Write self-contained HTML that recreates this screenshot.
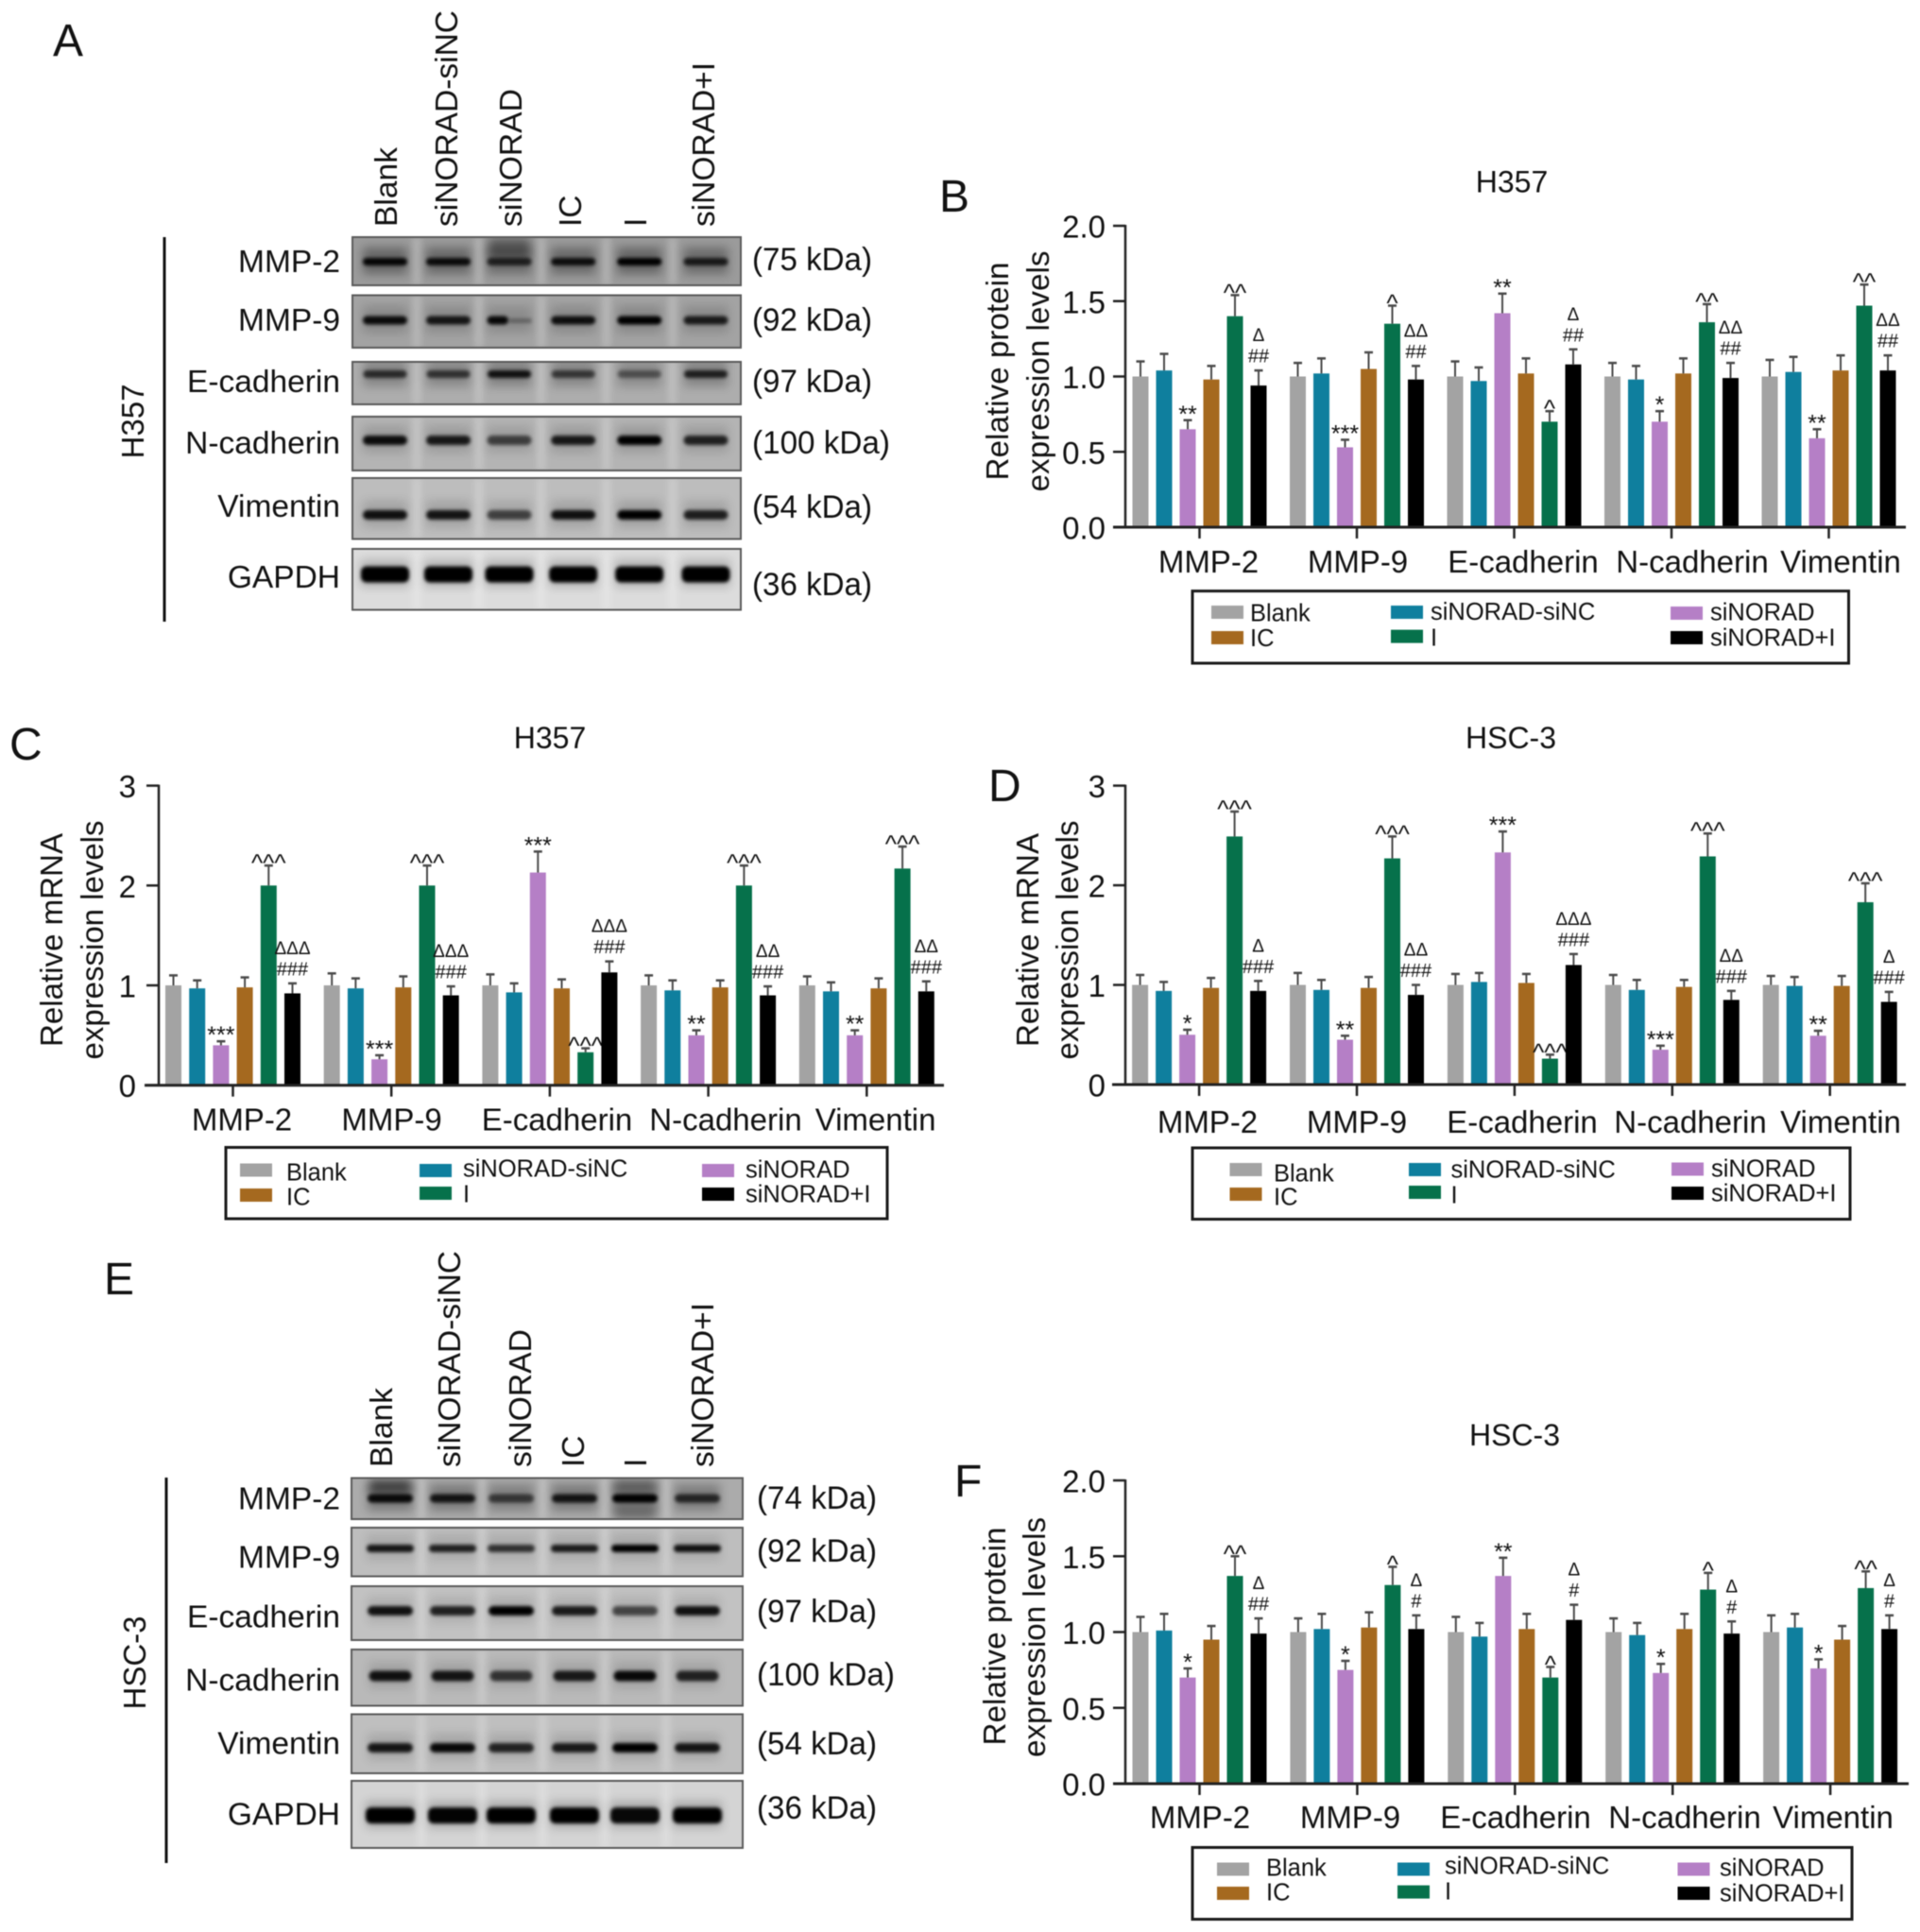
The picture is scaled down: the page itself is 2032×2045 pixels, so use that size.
<!DOCTYPE html>
<html lang="en">
<head>
<meta charset="utf-8">
<title>MMP and EMT marker expression in H357 and HSC-3 cells</title>
<style>
html,body{margin:0;padding:0;background:#fff;}
body{width:2032px;height:2045px;overflow:hidden;}
#figure{display:block;filter:blur(.5px);}
text{font-family:"Liberation Sans",sans-serif;fill:#111;}
.row{font-size:33.5px;text-anchor:end;}
.kda{font-size:34px;}
.lane{font-size:33.5px;}
.panel{font-size:48px;}
.title{font-size:32px;text-anchor:middle;}
.ylab{font-size:33px;text-anchor:middle;}
</style>
</head>
<body>
<svg id="figure" xmlns="http://www.w3.org/2000/svg" width="2032" height="2045" viewBox="0 0 2032 2045">
<defs>
<filter id="blurWide" x="-30%" y="-150%" width="160%" height="400%"><feGaussianBlur stdDeviation="5"/></filter>
<filter id="blurCore" x="-20%" y="-100%" width="140%" height="300%"><feGaussianBlur stdDeviation="1.8"/></filter>
<filter id="blurGutter" x="-100%" y="-20%" width="300%" height="140%"><feGaussianBlur stdDeviation="3"/></filter>
</defs>

<!-- Panel letters -->
<text class="panel" x="56" y="59">A</text>
<text class="panel" x="994" y="224">B</text>
<text class="panel" x="10" y="804">C</text>
<text class="panel" x="1046" y="848">D</text>
<text class="panel" x="110" y="1370">E</text>
<text class="panel" x="1010" y="1584">F</text>

<!-- Panel A labels -->
<g>
<text class="lane" transform="translate(420,240) rotate(-90)" textLength="84" lengthAdjust="spacingAndGlyphs">Blank</text>
<text class="lane" transform="translate(484,240) rotate(-90)" textLength="229" lengthAdjust="spacingAndGlyphs">siNORAD-siNC</text>
<text class="lane" transform="translate(552,240) rotate(-90)" textLength="146" lengthAdjust="spacingAndGlyphs">siNORAD</text>
<text class="lane" transform="translate(615,240) rotate(-90)">IC</text>
<text class="lane" transform="translate(684,240) rotate(-90)">I</text>
<text class="lane" transform="translate(756,240) rotate(-90)" textLength="174" lengthAdjust="spacingAndGlyphs">siNORAD+I</text>
</g>
<text class="ylab" transform="translate(152,446) rotate(-90)">H357</text>
<line x1="174" y1="251" x2="174" y2="658" stroke="#111" stroke-width="3"/>
<g transform="translate(0,-1)">
<text class="row" x="360" y="289">MMP-2</text>
<text class="row" x="360" y="351">MMP-9</text>
<text class="row" x="360" y="416">E-cadherin</text>
<text class="row" x="360" y="481">N-cadherin</text>
<text class="row" x="360" y="548">Vimentin</text>
<text class="row" x="360" y="623">GAPDH</text>
</g>
<g transform="translate(0,-2)">
<text class="kda" x="796" y="288" textLength="127" lengthAdjust="spacingAndGlyphs">(75 kDa)</text>
<text class="kda" x="796" y="352" textLength="127" lengthAdjust="spacingAndGlyphs">(92 kDa)</text>
<text class="kda" x="796" y="417" textLength="127" lengthAdjust="spacingAndGlyphs">(97 kDa)</text>
<text class="kda" x="796" y="482" textLength="146" lengthAdjust="spacingAndGlyphs">(100 kDa)</text>
<text class="kda" x="796" y="550" textLength="127" lengthAdjust="spacingAndGlyphs">(54 kDa)</text>
<text class="kda" x="796" y="632" textLength="127" lengthAdjust="spacingAndGlyphs">(36 kDa)</text>
</g>

<!-- Panel E labels -->
<g>
<text class="lane" transform="translate(415,1553) rotate(-90)" textLength="84" lengthAdjust="spacingAndGlyphs">Blank</text>
<text class="lane" transform="translate(487,1553) rotate(-90)" textLength="229" lengthAdjust="spacingAndGlyphs">siNORAD-siNC</text>
<text class="lane" transform="translate(562,1553) rotate(-90)" textLength="146" lengthAdjust="spacingAndGlyphs">siNORAD</text>
<text class="lane" transform="translate(618,1553) rotate(-90)">IC</text>
<text class="lane" transform="translate(684,1553) rotate(-90)">I</text>
<text class="lane" transform="translate(755,1553) rotate(-90)" textLength="174" lengthAdjust="spacingAndGlyphs">siNORAD+I</text>
</g>
<text class="ylab" transform="translate(154,1760) rotate(-90)">HSC-3</text>
<line x1="176" y1="1564" x2="176" y2="1972" stroke="#111" stroke-width="3"/>
<g transform="translate(0,-1.5)">
<text class="row" x="360" y="1599">MMP-2</text>
<text class="row" x="360" y="1661">MMP-9</text>
<text class="row" x="360" y="1724">E-cadherin</text>
<text class="row" x="360" y="1791">N-cadherin</text>
<text class="row" x="360" y="1858">Vimentin</text>
<text class="row" x="360" y="1933">GAPDH</text>
</g>
<g transform="translate(0,-2)">
<text class="kda" x="801" y="1599" textLength="127" lengthAdjust="spacingAndGlyphs">(74 kDa)</text>
<text class="kda" x="801" y="1655" textLength="127" lengthAdjust="spacingAndGlyphs">(92 kDa)</text>
<text class="kda" x="801" y="1719" textLength="127" lengthAdjust="spacingAndGlyphs">(97 kDa)</text>
<text class="kda" x="801" y="1786" textLength="146" lengthAdjust="spacingAndGlyphs">(100 kDa)</text>
<text class="kda" x="801" y="1859" textLength="127" lengthAdjust="spacingAndGlyphs">(54 kDa)</text>
<text class="kda" x="801" y="1927" textLength="127" lengthAdjust="spacingAndGlyphs">(36 kDa)</text>
</g>

<!-- Chart titles -->
<text class="title" x="1600" y="203.5">H357</text>
<text class="title" x="582" y="792">H357</text>
<text class="title" x="1599" y="792">HSC-3</text>
<text class="title" x="1603" y="1530">HSC-3</text>

<!-- Y axis titles -->
<text class="ylab" transform="translate(1067,393) rotate(-90)" textLength="231" lengthAdjust="spacingAndGlyphs">Relative protein</text>
<text class="ylab" transform="translate(1110,393) rotate(-90)" textLength="255" lengthAdjust="spacingAndGlyphs">expression levels</text>
<text class="ylab" transform="translate(66,995) rotate(-90)" textLength="226" lengthAdjust="spacingAndGlyphs">Relative mRNA</text>
<text class="ylab" transform="translate(109,995) rotate(-90)" textLength="253" lengthAdjust="spacingAndGlyphs">expression levels</text>
<text class="ylab" transform="translate(1099,995) rotate(-90)" textLength="226" lengthAdjust="spacingAndGlyphs">Relative mRNA</text>
<text class="ylab" transform="translate(1141,995) rotate(-90)" textLength="253" lengthAdjust="spacingAndGlyphs">expression levels</text>
<text class="ylab" transform="translate(1064,1732) rotate(-90)" textLength="231" lengthAdjust="spacingAndGlyphs">Relative protein</text>
<text class="ylab" transform="translate(1106,1733) rotate(-90)" textLength="254" lengthAdjust="spacingAndGlyphs">expression levels</text>
</svg>

<script>
/* ---------- shared categories ---------- */
const categories = ['MMP-2', 'MMP-9', 'E-cadherin', 'N-cadherin', 'Vimentin'];
const seriesNames = ['Blank', 'siNORAD-siNC', 'siNORAD', 'IC', 'I', 'siNORAD+I'];
const legendOrder = ['Blank', 'siNORAD-siNC', 'siNORAD', 'IC', 'I', 'siNORAD+I'];
const proteinTicks = [0, 0.5, 1, 1.5, 2];
const proteinTickLabels = ['0.0', '0.5', '1.0', '1.5', '2.0'];
const mrnaTicks = [0, 1, 2, 3];
const mrnaTickLabels = ['0', '1', '2', '3'];

/* ---------- chart B: H357 protein ---------- */
const meansB = [
  [1.00, 1.04, 0.65, 0.98, 1.40, 0.94],
  [1.00, 1.02, 0.53, 1.05, 1.35, 0.98],
  [1.00, 0.97, 1.42, 1.02, 0.70, 1.08],
  [1.00, 0.98, 0.70, 1.02, 1.36, 0.99],
  [1.00, 1.03, 0.59, 1.04, 1.47, 1.04]
];
const errorsB = [
  [0.10, 0.11, 0.06, 0.09, 0.14, 0.10],
  [0.09, 0.10, 0.05, 0.11, 0.12, 0.09],
  [0.10, 0.09, 0.13, 0.10, 0.07, 0.10],
  [0.09, 0.09, 0.07, 0.10, 0.12, 0.10],
  [0.11, 0.10, 0.06, 0.10, 0.14, 0.10]
];
const marksB = [
  ['', '', '**', '', '^^', 'Δ|##'],
  ['', '', '***', '', '^', 'ΔΔ|##'],
  ['', '', '**', '', '^', 'Δ|##'],
  ['', '', '*', '', '^^', 'ΔΔ|##'],
  ['', '', '**', '', '^^', 'ΔΔ|##']
];

/* ---------- chart C: H357 mRNA ---------- */
const meansC = [
  [1.00, 0.97, 0.40, 0.98, 2.00, 0.92],
  [1.00, 0.97, 0.26, 0.98, 2.00, 0.90],
  [1.00, 0.93, 2.13, 0.97, 0.33, 1.13],
  [1.00, 0.95, 0.50, 0.98, 2.00, 0.90],
  [1.00, 0.94, 0.50, 0.97, 2.17, 0.94]
];
const errorsC = [
  [0.10, 0.08, 0.04, 0.10, 0.20, 0.10],
  [0.12, 0.10, 0.04, 0.11, 0.20, 0.09],
  [0.11, 0.09, 0.21, 0.09, 0.04, 0.11],
  [0.10, 0.10, 0.05, 0.07, 0.20, 0.09],
  [0.09, 0.09, 0.05, 0.10, 0.22, 0.10]
];
const marksC = [
  ['', '', '***', '', '^^^', 'ΔΔΔ|###'],
  ['', '', '***', '', '^^^', 'ΔΔΔ|###'],
  ['', '', '***', '', '^^^', 'ΔΔΔ|###'],
  ['', '', '**', '', '^^^', 'ΔΔ|###'],
  ['', '', '**', '', '^^^', 'ΔΔ|###']
];

/* ---------- chart D: HSC-3 mRNA ---------- */
const meansD = [
  [1.00, 0.94, 0.50, 0.97, 2.49, 0.94],
  [1.00, 0.95, 0.45, 0.97, 2.27, 0.90],
  [1.00, 1.03, 2.33, 1.02, 0.26, 1.20],
  [1.00, 0.95, 0.35, 0.98, 2.29, 0.85],
  [1.00, 0.99, 0.49, 0.99, 1.83, 0.83]
];
const errorsD = [
  [0.10, 0.09, 0.05, 0.10, 0.25, 0.10],
  [0.12, 0.10, 0.04, 0.11, 0.22, 0.10],
  [0.11, 0.09, 0.21, 0.09, 0.04, 0.11],
  [0.10, 0.10, 0.04, 0.07, 0.23, 0.09],
  [0.09, 0.09, 0.05, 0.10, 0.19, 0.10]
];
const marksD = [
  ['', '', '*', '', '^^^', 'Δ|###'],
  ['', '', '**', '', '^^^', 'ΔΔ|###'],
  ['', '', '***', '', '^^^', 'ΔΔΔ|###'],
  ['', '', '***', '', '^^^', 'ΔΔ|###'],
  ['', '', '**', '', '^^^', 'Δ|###']
];

/* ---------- chart F: HSC-3 protein ---------- */
const meansF = [
  [1.00, 1.01, 0.70, 0.95, 1.37, 0.99],
  [1.00, 1.02, 0.75, 1.03, 1.31, 1.02],
  [1.00, 0.97, 1.37, 1.02, 0.70, 1.08],
  [1.00, 0.98, 0.73, 1.02, 1.28, 0.99],
  [1.00, 1.03, 0.76, 0.95, 1.29, 1.02]
];
const errorsF = [
  [0.10, 0.11, 0.06, 0.09, 0.13, 0.10],
  [0.09, 0.10, 0.06, 0.10, 0.12, 0.09],
  [0.10, 0.09, 0.12, 0.10, 0.07, 0.10],
  [0.09, 0.08, 0.06, 0.10, 0.11, 0.08],
  [0.11, 0.09, 0.06, 0.09, 0.11, 0.09]
];
const marksF = [
  ['', '', '*', '', '^^', 'Δ|##'],
  ['', '', '*', '', '^', 'Δ|#'],
  ['', '', '**', '', '^', 'Δ|#'],
  ['', '', '*', '', '^', 'Δ|#'],
  ['', '', '*', '', '^^', 'Δ|#']
];

/* ---------- western-blot band strengths (0-1 per lane) ---------- */
const bandsA = [
  [0.95, 0.90, 0.72, 0.88, 1.00, 0.78],
  [0.92, 0.85, 0.70, 0.90, 1.00, 0.82],
  [0.70, 0.65, 0.88, 0.62, 0.45, 0.78],
  [0.92, 0.85, 0.62, 0.85, 1.00, 0.80],
  [0.90, 0.88, 0.62, 0.90, 1.00, 0.82],
  [1.00, 1.00, 1.00, 1.00, 1.00, 1.00]
];
const bandsE = [
  [0.92, 0.85, 0.60, 0.85, 1.00, 0.72],
  [0.88, 0.82, 0.72, 0.85, 1.00, 0.90],
  [0.90, 0.82, 1.00, 0.85, 0.62, 0.90],
  [0.90, 0.88, 0.70, 0.85, 0.95, 0.80],
  [0.88, 0.95, 0.80, 0.85, 1.00, 0.88],
  [1.00, 0.98, 1.00, 1.00, 0.95, 1.00]
];

/* ---------- style and layout (not data) ---------- */
const SVG_NS = 'http://www.w3.org/2000/svg';
const figure = document.getElementById('figure');
const seriesColors = ['#a3a3a3', '#0f7f9e', '#b57fc6', '#a5691f', '#06714b', '#000000'];

function make(tag, attrs, parent) {
  const el = document.createElementNS(SVG_NS, tag);
  for (const k in attrs) el.setAttribute(k, attrs[k]);
  (parent || figure).appendChild(el);
  return el;
}

function label(str, x, y, size, anchor, parent) {
  const el = make('text', { x: x, y: y, 'font-size': size, 'text-anchor': anchor }, parent);
  el.textContent = str;
  return el;
}

const layoutB = { key: 'b', max: 2, axisX: 1191, top: 239, zero: 558, xStart: 1178, xEnd: 2017, first: 1207, step: 25, groupStep: 166.5, tickRight: 1170, catX: [1279, 1437, 1612, 1791, 1948], catY: 606,
  box: [1262, 625.6, 694.5, 76.4], swX: [1282, 1472, 1768], txtX: [1323, 1514, 1810], swY: [648, 648, 649, 675, 673.6, 675], txtY: [648, 646.5, 647, 674.5, 674, 674] };
const layoutC = { key: 'c', max: 3, axisX: 168, top: 831.6, zero: 1148.7, xStart: 153, xEnd: 999, first: 183.5, step: 25.2, groupStep: 167.7, tickRight: 144, catX: [256, 414.6, 589.5, 768, 926.6], catY: 1196.5,
  box: [239, 1214.5, 700, 75.5], swX: [254, 444, 743], txtX: [303, 490, 789], swY: [1238.5, 1239, 1239, 1265, 1263, 1264], txtY: [1240, 1236, 1237, 1266, 1263, 1263] };
const layoutD = { key: 'd', max: 3, axisX: 1191, top: 831.6, zero: 1148, xStart: 1177, xEnd: 2017, first: 1206.6, step: 25, groupStep: 166.9, tickRight: 1170, catX: [1278, 1436, 1611, 1789, 1948], catY: 1199,
  box: [1262, 1215, 696, 75.5], swX: [1301.5, 1491, 1769], txtX: [1348, 1535.5, 1811], swY: [1238, 1238, 1237.5, 1264, 1262, 1263], txtY: [1241, 1237, 1236, 1266, 1264, 1262] };
const layoutF = { key: 'f', max: 2, axisX: 1191, top: 1567, zero: 1888, xStart: 1178, xEnd: 2020, first: 1207, step: 25, groupStep: 166.9, tickRight: 1170, catX: [1270, 1429, 1604, 1783, 1940], catY: 1935,
  box: [1262, 1955.5, 698, 76], swX: [1288, 1479, 1775.5], txtX: [1340, 1529, 1820], swY: [1978.5, 1978.5, 1978.5, 2004, 2002.6, 2004], txtY: [1976, 1974, 1976, 2002, 2001, 2003] };

function drawAnnotation(text, cx, topY, g) {
  if (!text) return;
  const parts = text.split('|');
  if (parts.length === 2) {
    const delta = label(parts[0], cx, topY - 37 + 6, 19, 'middle', g);
    
    
    const hash = label(parts[1], cx, topY - 15 + 6.5, 20, 'middle', g);
    
    
  } else if (text.charAt(0) === '*') {
    const star = label(text, cx, topY - 11 + 13, 25, 'middle', g);
    
    
  } else {
    const caret = label(text, cx, topY - 10 + 16, 26, 'middle', g);
    
    
  }
}

function drawChart(L, means, errors, marks, ticks, tickLabels) {
  const y = function (v) { return L.zero - (v / L.max) * (L.zero - L.top); };
  const x = function (c, s) { return L.first + c * L.groupStep + s * L.step; };
  const chart = make('g', {});
  
  

  means.forEach(function (row, c) {
    row.forEach(function (value, s) {
      const cx = x(c, s);
      const bar = make('rect', { x: cx - 8.5, y: y(value), width: 17, height: L.zero - y(value), fill: seriesColors[s] }, chart);
      
      
      const topY = y(value + errors[c][s]);
      const stem = make('line', { x1: cx, x2: cx, y1: y(value), y2: topY, stroke: '#4a4a4a', 'stroke-width': 2 }, chart);
      
      
      const cap = make('line', { x1: cx - 4.5, x2: cx + 4.5, y1: topY, y2: topY, stroke: '#4a4a4a', 'stroke-width': 2.5 }, chart);
      
      
      drawAnnotation(marks[c][s], cx, topY, chart);
    });
  });

  const yAxis = make('line', { x1: L.axisX, x2: L.axisX, y1: L.top - 1, y2: L.zero, stroke: '#222', 'stroke-width': 2.5 }, chart);
  
  
  const xAxis = make('line', { x1: L.xStart, x2: L.xEnd, y1: L.zero, y2: L.zero, stroke: '#222', 'stroke-width': 3 }, chart);
  
  

  ticks.forEach(function (t, i) {
    const tick = make('line', { x1: L.axisX - 13, x2: L.axisX, y1: y(t), y2: y(t), stroke: '#222', 'stroke-width': 2.5 }, chart);
    
    
    const tickText = label(tickLabels[i], L.tickRight, y(t) + 12.5, 33, 'end', chart);
    
    
  });

  categories.forEach(function (name, c) {
    const gx = (x(c, 0) + x(c, 5)) / 2;
    const tick = make('line', { x1: gx, x2: gx, y1: L.zero, y2: L.zero + 12, stroke: '#222', 'stroke-width': 2.5 }, chart);
    
    
    const catText = label(name, L.catX[c], L.catY, 33, 'middle', chart);
    
    
  });

  const legend = make('g', {});
  
  
  const box = make('rect', { x: L.box[0], y: L.box[1], width: L.box[2], height: L.box[3], fill: 'none', stroke: '#1a1a1a', 'stroke-width': 3 }, legend);
  
  
  legendOrder.forEach(function (name, i) {
    const col = i % 3;
    const sw = make('rect', { x: L.swX[col], y: L.swY[i] - 7, width: 34, height: 14, fill: seriesColors[seriesNames.indexOf(name)] }, legend);
    
    
    const txt = label(name, L.txtX[col], L.txtY[i] + 9.5, 25.5, 'start', legend);
    
    
  });
}

drawChart(layoutB, meansB, errorsB, marksB, proteinTicks, proteinTickLabels);
drawChart(layoutC, meansC, errorsC, marksC, mrnaTicks, mrnaTickLabels);
drawChart(layoutD, meansD, errorsD, marksD, mrnaTicks, mrnaTickLabels);
drawChart(layoutF, meansF, errorsF, marksF, proteinTicks, proteinTickLabels);

/* ---------- western blots ---------- */
const blotA = { key: 'a', x: 373, w: 411, lanes: [407.5, 474.5, 539, 606.7, 676.7, 747],
  rows: [
    { top: 251, h: 51, y: 277, core: 8, bandW: 47, fill: '#9b9b9b', halo: 0.34, smear: [[2, 252, 20, 0.4]] },
    { top: 312.5, h: 55.5, y: 339, core: 9, bandW: 47, fill: '#a3a3a3', halo: 0.16, split: 2 },
    { top: 383, h: 45, y: 396, core: 8, bandW: 46, fill: '#adadad', halo: 0.26 },
    { top: 441, h: 57, y: 466, core: 10, bandW: 47, fill: '#b4b4b4', halo: 0.14 },
    { top: 506, h: 64.5, y: 545, core: 10, bandW: 47, fill: '#bdbdbd', halo: 0.14 },
    { top: 581, h: 64.5, y: 608, core: 17, bandW: 51, fill: '#dcdcdc', halo: 0.2 }
  ] };
const blotE = { key: 'e', x: 372, w: 414, lanes: [413, 479, 541, 608, 672, 738],
  rows: [
    { top: 1564.5, h: 43.5, y: 1586, core: 9, bandW: 48, fill: '#ababab', halo: 0.3, smear: [[0, 1566, 14, 0.55], [4, 1566, 12, 0.35], [4, 1596, 12, 0.35]] },
    { top: 1617, h: 51.5, y: 1639, core: 8, bandW: 50, fill: '#bebebe', halo: 0.1 },
    { top: 1679, h: 57, y: 1705, core: 10, bandW: 48, fill: '#c2c2c2', halo: 0.1 },
    { top: 1746, h: 59.5, y: 1774, core: 11, bandW: 45, fill: '#b9b9b9', halo: 0.12 },
    { top: 1814.5, h: 62.5, y: 1850, core: 10, bandW: 48, fill: '#bfbfbf', halo: 0.12 },
    { top: 1885, h: 71, y: 1921.6, core: 17, bandW: 52, fill: '#d4d4d4', halo: 0.2 }
  ] };

function drawBlot(B, strengths) {
  const blot = make('g', {});
  
  
  const defs = figure.querySelector('defs');
  B.rows.forEach(function (R, r) {
    const clipId = 'clip-' + B.key + '-' + r;
    const clip = make('clipPath', { id: clipId }, defs);
    make('rect', { x: B.x, y: R.top, width: B.w, height: R.h }, clip);
    const strip = make('g', { 'clip-path': 'url(#' + clipId + ')' }, blot);
    
    
    make('rect', { x: B.x, y: R.top, width: B.w, height: R.h, fill: R.fill }, strip);
    for (let i = 0; i < B.lanes.length - 1; i++) {
      const gx = (B.lanes[i] + B.lanes[i + 1]) / 2;
      make('rect', { x: gx - 5, y: R.top, width: 10, height: R.h, fill: '#fff', opacity: 0.18, filter: 'url(#blurGutter)' }, strip);
    }
    (R.smear || []).forEach(function (m) {
      make('rect', { x: B.lanes[m[0]] - 22, y: m[1], width: 44, height: m[2], fill: '#000', opacity: m[3], filter: 'url(#blurWide)' }, strip);
    });
    B.lanes.forEach(function (cx, l) {
      const s = strengths[r][l];
      const w = R.bandW;
      const rx = Math.min(R.core / 2, 6);
      make('rect', { x: cx - w / 2, y: R.y - 15, width: w, height: 28, fill: '#000', opacity: R.halo * (0.5 + s * 0.5), filter: 'url(#blurWide)' }, strip);
      if (R.split === l) {
        const band = make('rect', { x: cx - w / 2, y: R.y - R.core / 2, width: w * 0.48, height: R.core, rx: rx, fill: '#050505', opacity: 0.95, filter: 'url(#blurCore)' }, strip);
        
        
        const tail = make('rect', { x: cx, y: R.y - 2, width: w * 0.5, height: 5, fill: '#050505', opacity: 0.3, filter: 'url(#blurCore)' }, strip);
        
        
      } else {
        const band = make('rect', { x: cx - w / 2, y: R.y - R.core / 2, width: w, height: R.core, rx: rx, fill: '#050505', opacity: s, filter: 'url(#blurCore)' }, strip);
        
        
      }
    });
    const frame = make('rect', { x: B.x, y: R.top, width: B.w, height: R.h, fill: 'none', stroke: '#5a5a5a', 'stroke-width': 2 }, blot);
    
    
  });
}

drawBlot(blotA, bandsA);
drawBlot(blotE, bandsE);
</script>
</body>
</html>
